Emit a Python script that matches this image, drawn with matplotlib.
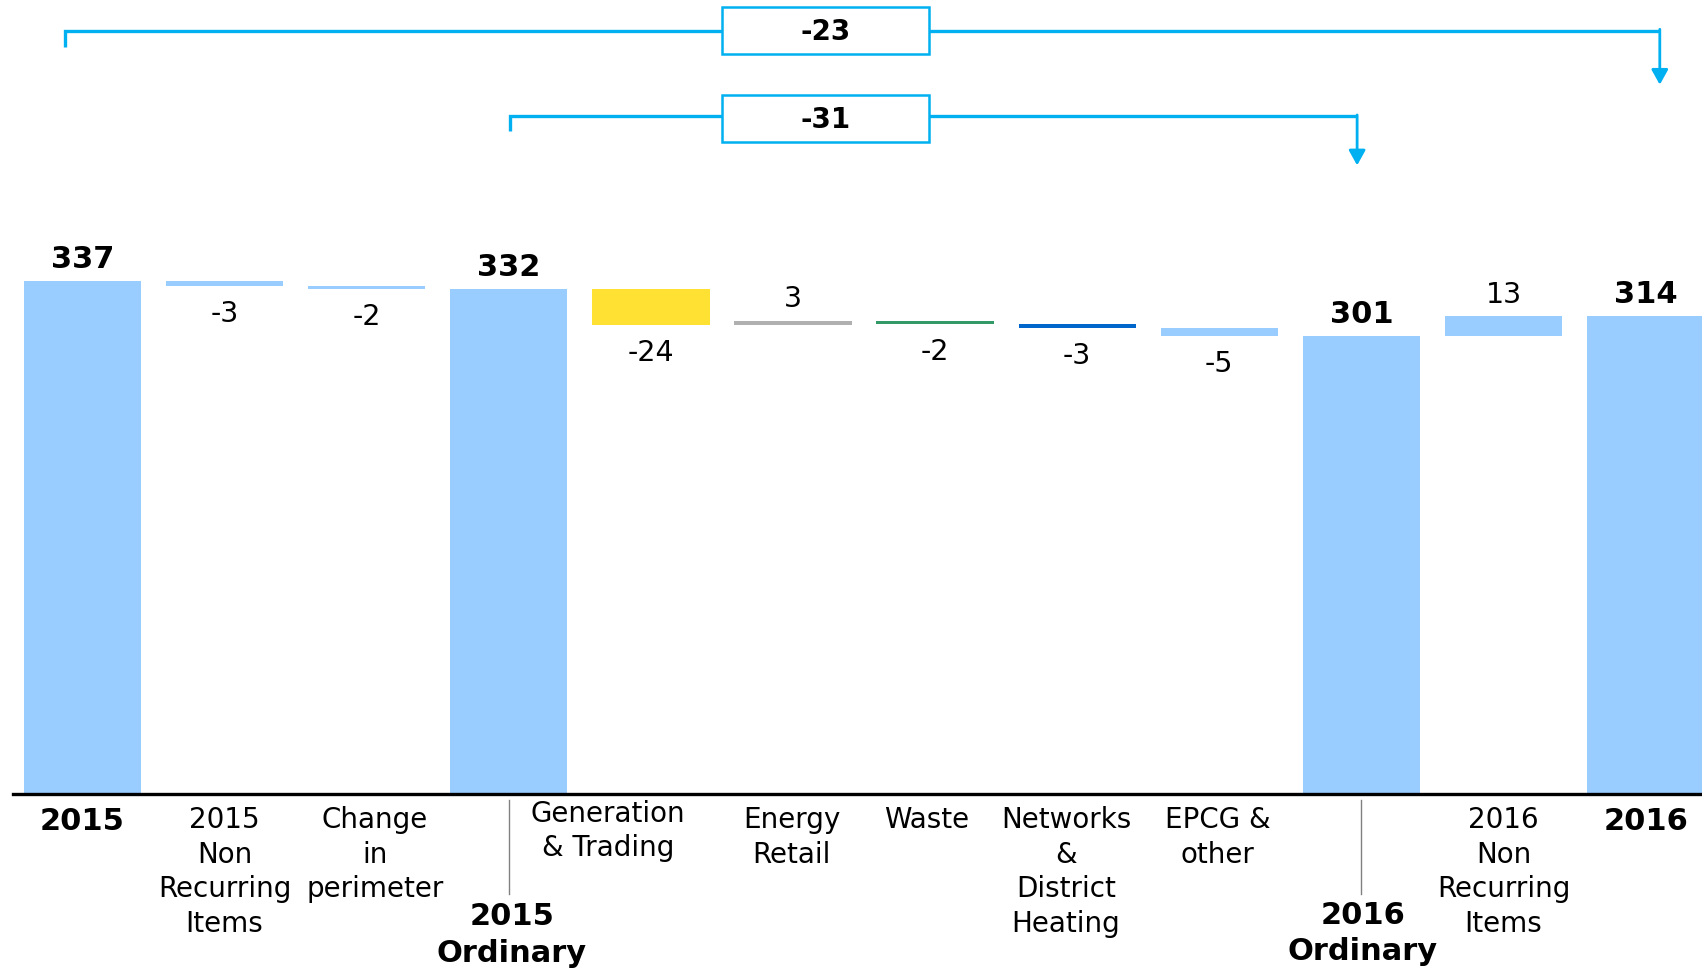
import matplotlib.pyplot as plt
from matplotlib.patches import Rectangle

categories = ["2015", "2015\nNon\nRecurring\nItems", "Change\nin\nperimeter", "2015\nOrdinary",
              "Generation\n& Trading", "Energy\nRetail", "Waste", "Networks\n&\nDistrict\nHeating",
              "EPCG &\nother", "2016\nOrdinary", "2016\nNon\nRecurring\nItems", "2016"]
values = [337, -3, -2, 332, -24, 3, -2, -3, -5, 301, 13, 314]
is_total = [True, False, False, True, False, False, False, False, False, True, False, True]

LIGHT = "#99CCFF"
bar_colors = [LIGHT, LIGHT, LIGHT, LIGHT, "#FFE133", "#B0B0B0", "#339966", "#0066CC",
              LIGHT, LIGHT, LIGHT, LIGHT]
BRACKET = "#00B0F0"

plt.rcParams['font.family'] = ['DejaVu Sans']

fig = plt.figure(figsize=(17.02, 9.70), dpi=100)
ax = fig.add_axes([13 / 1702, 175 / 970, 1 - 13 / 1702, 795 / 970])

# waterfall: totals start at zero, deltas float on the running total
bottoms, heights = [], []
running = 0
for v, tot in zip(values, is_total):
    if tot:
        bottoms.append(0)
        heights.append(v)
        running = v
    else:
        bottoms.append(running + min(v, 0))
        heights.append(abs(v))
        running += v

xs = list(range(len(values)))
ax.bar(xs, heights, bottom=bottoms, width=0.825, color=bar_colors, zorder=2)

# value labels
for x, v, b, h, tot in zip(xs, values, bottoms, heights, is_total):
    if tot:
        ax.annotate(str(v), (x, b + h), xytext=(0, 16), textcoords='offset points',
                    ha='center', va='center', fontsize=22, fontweight='bold')
    elif v > 0:
        ax.annotate(str(v), (x, b + h), xytext=(0, 16), textcoords='offset points',
                    ha='center', va='center', fontsize=20.5)
    else:
        ax.annotate(str(v), (x, b), xytext=(0, -19.5), textcoords='offset points',
                    ha='center', va='center', fontsize=20.5)

# category labels under the axis
label_dx = [0, 0, 6, 2, -31, -1, -6, -8, -1, 1, 0, 0]
label_dy = [-9, -8, -8, -77, -3.5, -8, -8, -8, -8, -76, -8, -9]
for x, lab, dx, dy, tot in zip(xs, categories, label_dx, label_dy, is_total):
    ax.annotate(lab, (x, 0), xytext=(dx, dy), textcoords='offset points',
                ha='center', va='top', fontsize=22 if tot else 20,
                fontweight='bold' if tot else 'normal',
                linespacing=1.3 if not tot else 1.33, annotation_clip=False)

# separators above the "Ordinary" labels
for x in (3, 9):
    ax.plot([x, x], [-4, -66], color="#808080", lw=1, clip_on=False)


def bracket(x0, x1, y, y_left, y_tip, box_y, text):
    ax.plot([x0, x0, x1], [y_left, y, y], color=BRACKET, lw=2.4,
            solid_joinstyle='miter', solid_capstyle='butt', zorder=3)
    ax.annotate('', xy=(x1, y_tip), xytext=(x1, y + 0.8),
                arrowprops=dict(arrowstyle='-|>,head_length=0.9,head_width=0.5',
                                color=BRACKET, lw=2, shrinkA=0, shrinkB=0))
    ax.add_patch(Rectangle((4.5, box_y), 1.46, 31.3, facecolor='white',
                           edgecolor=BRACKET, lw=1.8, zorder=4))
    ax.text(5.23, box_y + 15.0, text, ha='center', va='center', fontsize=20,
            fontweight='bold', zorder=5)


diff_total = values[11] - values[0]
diff_ord = values[9] - values[3]
bracket(-0.12, 11.10, 501.6, 491, 466, 486, str(diff_total))
bracket(3.01, 8.97, 445.3, 435.3, 413, 428.2, str(diff_ord))

ax.set_xlim(-0.489, 11.397)
ax.set_ylim(0, 522.3)
for s in ('top', 'right', 'left'):
    ax.spines[s].set_visible(False)
ax.spines['bottom'].set_linewidth(2.4)
ax.spines['bottom'].set_zorder(3)
ax.set_xticks([])
ax.set_yticks([])

fig.savefig('out.png', dpi=100)
